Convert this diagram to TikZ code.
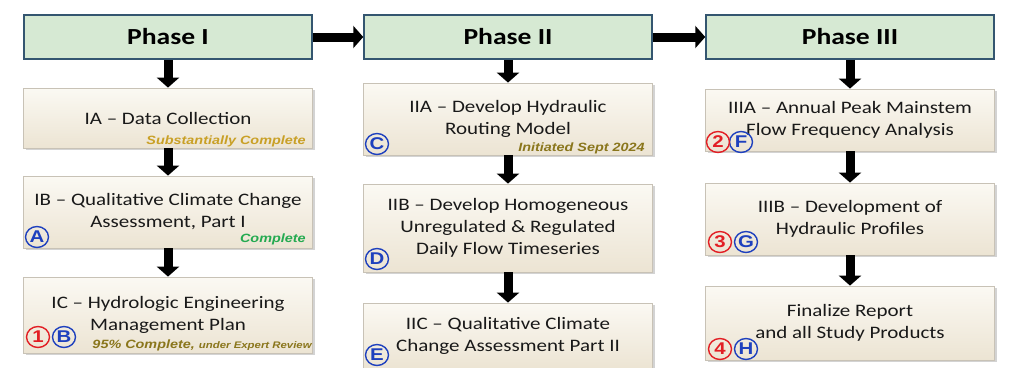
\documentclass[tikz,border=0pt]{standalone}
\usepackage{fontspec}
\setmainfont{Carlito}[FakeStretch=1.2]
\newfontfamily\statusfont{Liberation Sans}[FakeStretch=1.2]
\usetikzlibrary{arrows.meta,shapes.geometric,shadows,calc}

\definecolor{phasefill}{RGB}{214,233,211}
\definecolor{phaseline}{RGB}{52,86,112}
\definecolor{tasktop}{RGB}{251,249,243}
\definecolor{taskbottom}{RGB}{236,228,211}
\definecolor{taskline}{RGB}{200,194,182}
\definecolor{goldtext}{RGB}{201,160,38}
\definecolor{olivetext}{RGB}{138,118,28}
\definecolor{greentext}{RGB}{36,170,80}
\definecolor{badgered}{RGB}{226,30,36}
\definecolor{badgeblue}{RGB}{30,64,190}

\tikzset{
  phasebox/.style={draw=phaseline,line width=1.5pt,fill=phasefill,minimum width=288pt,minimum height=44pt,
    font=\fontsize{23}{26}\selectfont\bfseries},
  taskbox/.style={draw=taskline,line width=0.8pt,top color=tasktop,bottom color=taskbottom,minimum width=289pt,
    align=center,font=\fontsize{17.5}{22}\selectfont,text=black!90,
    drop shadow={opacity=0.35,shadow xshift=2pt,shadow yshift=-2pt}},
  statustext/.style={anchor=base east,inner sep=0pt,font=\statusfont\fontsize{12}{14}\selectfont\bfseries\itshape},
  badge/.style={ellipse,draw=#1,text=#1,line width=1.4pt,minimum width=23pt,minimum height=21pt,inner sep=0pt,
    font=\statusfont\fontsize{17}{17}\selectfont\bfseries},
  bigarrow/.style={line width=9pt,-{Triangle[length=10pt,width=22pt]}}
}

\begin{document}
\begin{tikzpicture}[x=1pt,y=-1pt]

  \useasboundingbox (0,0) rectangle (1009,367);
  \clip (0,0) rectangle (1009,367);

  \foreach \n/\t/\cx in {1/I/168, 2/II/508, 3/III/850}{
    \node [phasebox] at(\cx,37) (phase_\n) {Phase \t};
  }

  % phase I
  \node [taskbox,minimum height=60pt] at(168,118) (task_1a) {IA -- Data Collection};
  \node [taskbox,minimum height=72pt] at(168,212) (task_1b) {IB -- Qualitative Climate Change\\Assessment, Part I};
  \node [taskbox,minimum height=76pt] at(168,315) (task_1c) {IC -- Hydrologic Engineering\\Management Plan};

  % phase II
  \node [taskbox,minimum height=72pt] at(508,119) (task_2a) {IIA -- Develop Hydraulic\\Routing Model};
  \node [taskbox,minimum height=88pt] at(508,228) (task_2b) {IIB -- Develop Homogeneous\\Unregulated \& Regulated\\Daily Flow Timeseries};
  \node [taskbox,minimum height=66pt] at(508,336) (task_2c) {IIC -- Qualitative Climate\\Change Assessment Part II};

  % phase III
  \node [taskbox,minimum height=62pt] at(850,120) (task_3a) {IIIA -- Annual Peak Mainstem\\Flow Frequency Analysis};
  \node [taskbox,minimum height=72pt] at(850,219) (task_3b) {IIIB -- Development of\\Hydraulic Profiles};
  \node [taskbox,minimum height=74pt] at(850,323) (task_3c) {Finalize Report\\and all Study Products};

  % status notes
  \node [statustext,text=goldtext] at($(task_1a.south east)+(-7,-4)$) (status_1a) {Substantially Complete};
  \node [statustext,text=greentext] at($(task_1b.south east)+(-7,-6)$) (status_1b) {Complete};
  \node [statustext,text=olivetext] at($(task_1c.south east)+(-1,-5)$) (status_1c) {95\% Complete, {\fontsize{9.5}{11}\selectfont under Expert Review}};
  \node [statustext,text=olivetext] at($(task_2a.south east)+(-8,-4)$) (status_2a) {Initiated Sept 2024};

  % badges
  \foreach \l/\bx/\by in {A/37/237, B/64/337, C/377/144, D/377/259, E/377/355, F/741/142, G/746/242, H/746/349}{
    \node [badge=badgeblue] at(\bx,\by) (badge_\l) {\l};
  }
  \foreach \l/\bx/\by in {1/38/337, 2/718/142, 3/720/242, 4/720/349}{
    \node [badge=badgered] at(\bx,\by) (badge_\l) {\l};
  }

  % connectors
  \foreach \c in {1,2,3}{
    \draw [bigarrow] (phase_\c) -- (task_\c a);
    \draw [bigarrow] (task_\c a) -- (task_\c b);
    \draw [bigarrow] (task_\c b) -- (task_\c c);
  }
  \draw [bigarrow] (phase_1) -- (phase_2);
  \draw [bigarrow] (phase_2) -- (phase_3);

\end{tikzpicture}
\end{document}
